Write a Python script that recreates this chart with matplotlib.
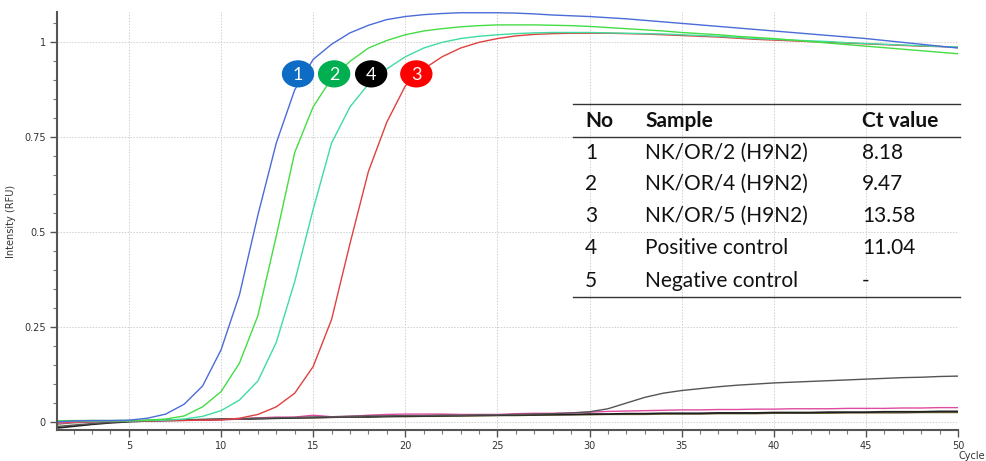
import numpy as np
import matplotlib
matplotlib.use("Agg")
from matplotlib import pyplot as plt
from matplotlib.lines import Line2D
from matplotlib.patches import Ellipse
from matplotlib.ticker import MultipleLocator

cycles = list(range(1, 51))

# sample 1 NK/OR/2
rfu_1 = [0.000, 0.003, 0.004, 0.004, 0.005, 0.010, 0.021, 0.047, 0.095, 0.190,
         0.335, 0.545, 0.735, 0.875, 0.955, 0.995, 1.025, 1.045, 1.060, 1.068,
         1.073, 1.076, 1.078, 1.078, 1.078, 1.077, 1.075, 1.072, 1.070, 1.068,
         1.065, 1.062, 1.058, 1.054, 1.050, 1.046, 1.042, 1.038, 1.034, 1.030,
         1.026, 1.022, 1.018, 1.014, 1.010, 1.005, 1.000, 0.995, 0.990, 0.985]
# sample 2 NK/OR/4
rfu_2 = [0.003, 0.004, 0.004, 0.004, 0.004, 0.005, 0.008, 0.016, 0.040, 0.080,
         0.155, 0.280, 0.490, 0.710, 0.830, 0.905, 0.950, 0.985, 1.005, 1.020,
         1.030, 1.036, 1.041, 1.044, 1.046, 1.046, 1.046, 1.045, 1.044, 1.042,
         1.039, 1.036, 1.033, 1.030, 1.026, 1.023, 1.020, 1.016, 1.013, 1.010,
         1.006, 1.002, 0.998, 0.994, 0.990, 0.986, 0.982, 0.978, 0.974, 0.970]
# positive control
rfu_4 = [0.002, 0.003, 0.003, 0.003, 0.003, 0.004, 0.005, 0.008, 0.015, 0.030,
         0.058, 0.108, 0.210, 0.370, 0.560, 0.735, 0.830, 0.890, 0.930, 0.962,
         0.985, 1.000, 1.010, 1.016, 1.020, 1.023, 1.025, 1.026, 1.026, 1.026,
         1.025, 1.024, 1.023, 1.022, 1.020, 1.018, 1.016, 1.013, 1.010, 1.008,
         1.006, 1.004, 1.002, 0.999, 0.997, 0.995, 0.993, 0.991, 0.989, 0.988]
# sample 3 NK/OR/5
rfu_3 = [0.000, 0.001, 0.002, 0.002, 0.003, 0.003, 0.004, 0.004, 0.005, 0.006,
         0.010, 0.020, 0.040, 0.076, 0.146, 0.270, 0.470, 0.660, 0.790, 0.885,
         0.930, 0.962, 0.985, 1.000, 1.010, 1.017, 1.021, 1.023, 1.024, 1.024,
         1.024, 1.023, 1.022, 1.020, 1.018, 1.016, 1.014, 1.011, 1.008, 1.006,
         1.004, 1.002, 1.000, 0.998, 0.996, 0.994, 0.992, 0.990, 0.989, 0.987]
# late riser (dark grey)
rfu_grey = [-0.012, -0.008, -0.004, -0.001, 0.002, 0.004, 0.005, 0.006, 0.007, 0.008,
            0.009, 0.010, 0.011, 0.012, 0.013, 0.014, 0.015, 0.016, 0.016, 0.017,
            0.017, 0.018, 0.018, 0.019, 0.019, 0.020, 0.021, 0.022, 0.024, 0.027,
            0.035, 0.050, 0.065, 0.076, 0.083, 0.088, 0.093, 0.097, 0.100, 0.103,
            0.105, 0.107, 0.109, 0.111, 0.113, 0.115, 0.117, 0.118, 0.120, 0.121]
# baseline wells
rfu_pink = [-0.004, 0.000, 0.001, 0.002, 0.003, 0.004, 0.004, 0.005, 0.005, 0.006,
            0.008, 0.011, 0.013, 0.013, 0.018, 0.014, 0.015, 0.018, 0.020, 0.021,
            0.021, 0.021, 0.020, 0.020, 0.020, 0.022, 0.023, 0.023, 0.024, 0.026,
            0.028, 0.029, 0.030, 0.031, 0.032, 0.032, 0.033, 0.033, 0.034, 0.034,
            0.035, 0.035, 0.035, 0.036, 0.036, 0.036, 0.037, 0.037, 0.038, 0.038]
rfu_black = [-0.016, -0.011, -0.006, -0.002, 0.001, 0.003, 0.004, 0.005, 0.006, 0.007,
             0.008, 0.009, 0.010, 0.011, 0.012, 0.013, 0.014, 0.014, 0.015, 0.016,
             0.016, 0.017, 0.017, 0.018, 0.018, 0.019, 0.019, 0.020, 0.020, 0.021,
             0.021, 0.022, 0.022, 0.023, 0.023, 0.023, 0.024, 0.024, 0.024, 0.025,
             0.025, 0.025, 0.026, 0.026, 0.026, 0.027, 0.027, 0.027, 0.028, 0.028]
rfu_olive = [-0.006, -0.002, 0.000, 0.002, 0.003, 0.004, 0.005, 0.006, 0.006, 0.007,
             0.008, 0.009, 0.010, 0.011, 0.011, 0.012, 0.013, 0.013, 0.014, 0.014,
             0.015, 0.015, 0.016, 0.016, 0.017, 0.017, 0.018, 0.018, 0.019, 0.019,
             0.020, 0.020, 0.020, 0.021, 0.021, 0.021, 0.022, 0.022, 0.022, 0.023,
             0.023, 0.023, 0.023, 0.024, 0.024, 0.024, 0.024, 0.025, 0.025, 0.025]

label_nums = ["1", "2", "4", "3"]
label_x = [14.18, 16.14, 18.15, 20.6]
label_colors = ["#0f6cc4", "#00b050", "#000000", "#ff0000"]

table_head = ["No", "Sample", "Ct value"]
table_no = ["1", "2", "3", "4", "5"]
table_sample = ["NK/OR/2 (H9N2)", "NK/OR/4 (H9N2)", "NK/OR/5 (H9N2)",
                "Positive control", "Negative control"]
table_ct = ["8.18", "9.47", "13.58", "11.04", "-"]

fig = plt.figure(figsize=(9.87, 4.61), dpi=100)
ax = fig.add_axes([0.0578, 0.0672, 0.9128, 0.9068])

ax.plot(cycles, rfu_olive, color="#7a7040", lw=1.0)
ax.plot(cycles, rfu_black, color="#202020", lw=1.3)
ax.plot(cycles, rfu_pink, color="#e04aa0", lw=1.0)
ax.plot(cycles, rfu_grey, color="#555555", lw=1.0)
ax.plot(cycles, rfu_3, color="#e04040", lw=1.0)
ax.plot(cycles, rfu_4, color="#3fdca0", lw=1.0)
ax.plot(cycles, rfu_2, color="#44dd44", lw=1.0)
ax.plot(cycles, rfu_1, color="#4a6cd8", lw=1.0)

ax.set_xlim(1.1, 50)
ax.set_ylim(-0.021, 1.08)
ax.xaxis.set_major_locator(MultipleLocator(5))
ax.xaxis.set_minor_locator(MultipleLocator(1))
ax.yaxis.set_major_locator(MultipleLocator(0.25))
ax.yaxis.set_minor_locator(MultipleLocator(0.05))
ax.set_yticks([0, 0.25, 0.5, 0.75, 1])
ax.set_yticklabels(["0", "0.25", "0.5", "0.75", "1"])
ax.grid(True, which="major", color="#d0d0d0", ls=(0, (1.5, 1.5)), lw=0.7)
for s in ["top", "right"]:
    ax.spines[s].set_visible(False)
for s in ["left", "bottom"]:
    ax.spines[s].set_color("#555555")
    ax.spines[s].set_linewidth(1.5)
ax.tick_params(which="major", length=5, width=1, color="#555555",
               labelsize=7, labelcolor="#333333", pad=3)
ax.tick_params(which="minor", length=3, width=0.8, color="#777777")
ax.set_ylabel("Intensity (RFU)", fontsize=7, color="#333333", labelpad=6)
fig.text(0.9985, 0.011, "Cycle", fontsize=7, color="#333333", ha="right", va="center")

# numbered markers
for num, xc, col in zip(label_nums, label_x, label_colors):
    ax.add_patch(Ellipse((xc, 0.917), 1.68, 0.068, color=col, zorder=5))
    ax.text(xc, 0.915, num, color="white", fontsize=13, ha="center", va="center",
            family="Lato", zorder=6)

# Ct table
x0, x1 = 0.5805, 0.9726
for yl in [0.7744, 0.7028, 0.3557]:
    fig.add_artist(Line2D([x0, x1], [yl, yl], color="#333333", lw=1.0))
col_x = [0.5927, 0.6535, 0.8734]
for cx, h in zip(col_x, table_head):
    fig.text(cx, 0.7375, h, fontsize=15, weight="bold", family="Lato",
             va="center", ha="left", color="#111111")
row_y = [0.6687, 0.6008, 0.5315, 0.4620, 0.3911]
for ry, n, s, c in zip(row_y, table_no, table_sample, table_ct):
    fig.text(col_x[0], ry, n, fontsize=15, family="Lato", va="center", color="#111111")
    fig.text(col_x[1], ry, s, fontsize=15, family="Lato", va="center", color="#111111")
    fig.text(col_x[2], ry, c, fontsize=15, family="Lato", va="center", color="#111111")

fig.savefig("out.png", dpi=100)
